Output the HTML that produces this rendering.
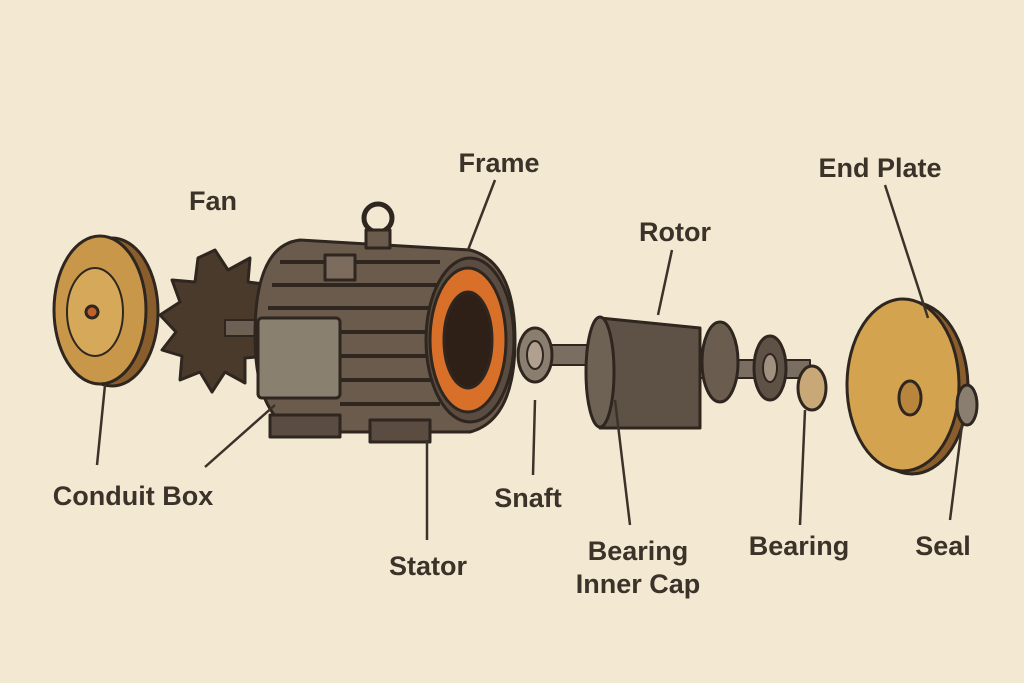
<!DOCTYPE html>
<html><head><meta charset="utf-8"><style>
html,body{margin:0;padding:0;background:#f3e9d3;}
svg{display:block}
text{font-family:"Liberation Sans",sans-serif;font-weight:bold;fill:#3b3329;font-size:27px;text-anchor:middle}
</style></head><body>
<svg width="1024" height="683" viewBox="0 0 1024 683">
<rect width="1024" height="683" fill="#f3e9d3"/>
<g stroke="#2e261f" stroke-width="3" stroke-linejoin="round">
<ellipse cx="112" cy="312" rx="46" ry="74" fill="#8a5e2c"/>
<ellipse cx="100" cy="310" rx="46" ry="74" fill="#c9974a"/>
<ellipse cx="95" cy="312" rx="28" ry="44" fill="#d6a85a" stroke-width="2"/>
<circle cx="92" cy="312" r="6" fill="#c0602a"/>
<polygon fill="#4a3a2c" points="215,250 228,270 250,258 248,282 272,285 258,303 276,320 256,335 268,356 245,358 245,383 225,372 212,392 200,372 180,380 182,356 162,350 176,332 160,315 180,302 172,280 195,282 198,258"/>
<rect x="225" y="320" width="45" height="16" fill="#6d6155" stroke-width="2"/>
<path d="M300,240 L470,250 Q515,262 515,340 Q515,420 470,432 L300,432 Q255,420 255,335 Q255,245 300,240Z" fill="#6a5b4d"/>
<g stroke="#2e261f" stroke-width="4">
<line x1="280" y1="262" x2="440" y2="262"/><line x1="272" y1="285" x2="440" y2="285"/>
<line x1="268" y1="308" x2="440" y2="308"/><line x1="340" y1="332" x2="440" y2="332"/>
<line x1="340" y1="356" x2="440" y2="356"/><line x1="340" y1="380" x2="440" y2="380"/>
<line x1="340" y1="404" x2="440" y2="404"/>
</g>
<rect x="270" y="415" width="70" height="22" fill="#5a4c40"/>
<rect x="370" y="420" width="60" height="22" fill="#5a4c40"/>
<circle cx="378" cy="218" r="14" fill="none" stroke-width="5"/>
<rect x="366" y="230" width="24" height="18" fill="#6a5b4d"/>
<rect x="325" y="255" width="30" height="25" fill="#7b6c5e"/>
<ellipse cx="470" cy="340" rx="44" ry="82" fill="#5a4c40"/>
<ellipse cx="468" cy="340" rx="38" ry="72" fill="#d8702a"/>
<ellipse cx="468" cy="340" rx="24" ry="48" fill="#2e1f17"/>
<rect x="258" y="318" width="82" height="80" rx="4" fill="#8a8070"/>
<rect x="530" y="345" width="80" height="20" fill="#7a6e62" stroke-width="2"/>
<ellipse cx="535" cy="355" rx="17" ry="27" fill="#8a7e70"/>
<ellipse cx="535" cy="355" rx="8" ry="14" fill="#b0a090" stroke-width="2"/>
<path d="M600,318 L700,328 L700,428 L600,428Z" fill="#5e5246"/>
<ellipse cx="600" cy="372" rx="14" ry="55" fill="#6e6254"/>
<rect x="700" y="360" width="110" height="18" fill="#7a6e62" stroke-width="2"/>
<ellipse cx="720" cy="362" rx="18" ry="40" fill="#6a5d50"/>
<ellipse cx="770" cy="368" rx="16" ry="32" fill="#5e5246"/>
<ellipse cx="770" cy="368" rx="7" ry="14" fill="#a09080" stroke-width="2"/>
<ellipse cx="812" cy="388" rx="14" ry="22" fill="#c9a878"/>
<ellipse cx="912" cy="388" rx="56" ry="86" fill="#8a5e2c"/>
<ellipse cx="903" cy="385" rx="56" ry="86" fill="#d4a350"/>
<ellipse cx="910" cy="398" rx="11" ry="17" fill="#b8853c"/>
<ellipse cx="967" cy="405" rx="10" ry="20" fill="#8a7e70"/>
</g>
<g stroke="#3b3329" stroke-width="2.5" fill="none">
<line x1="495" y1="180" x2="468" y2="250"/>
<line x1="672" y1="250" x2="658" y2="315"/>
<line x1="885" y1="185" x2="928" y2="318"/>
<line x1="97" y1="465" x2="105" y2="385"/>
<line x1="205" y1="467" x2="275" y2="405"/>
<line x1="427" y1="540" x2="427" y2="440"/>
<line x1="533" y1="475" x2="535" y2="400"/>
<line x1="630" y1="525" x2="615" y2="400"/>
<line x1="800" y1="525" x2="805" y2="410"/>
<line x1="950" y1="520" x2="962" y2="425"/>
</g>
<text x="213" y="210">Fan</text>
<text x="499" y="172">Frame</text>
<text x="675" y="241">Rotor</text>
<text x="880" y="177">End Plate</text>
<text x="133" y="505">Conduit Box</text>
<text x="428" y="575">Stator</text>
<text x="528" y="507">Snaft</text>
<text x="638" y="560">Bearing</text>
<text x="638" y="593">Inner Cap</text>
<text x="799" y="555">Bearing</text>
<text x="943" y="555">Seal</text>
</svg>
</body></html>
